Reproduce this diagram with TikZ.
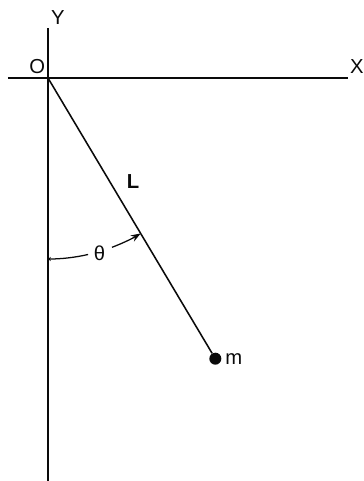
\documentclass[tikz,border=0pt]{standalone}
\usepackage{fontspec}
\setmainfont{Liberation Sans}
\usetikzlibrary{positioning, arrows.meta}
\definecolor{ink}{RGB}{10,10,10}
\newcommand{\rlen}{4.525}

\begin{document}
\begin{tikzpicture}[
  axis/.style={draw=ink, line width=1.5pt},
  rod/.style={draw=ink, line width=1.1pt},
  lab/.style={font=\Large, text=ink, inner sep=1pt}]
\useasboundingbox (-1.2,1.95) rectangle (7.9,-10.075);
% axes
\coordinate (o) at (0,0);
\coordinate (ytop) at (0,1.25);
\coordinate (ybot) at (0,-10.075);
\coordinate (xleft) at (-1.0,0);
\coordinate (xright) at (7.5,0);
\draw[axis] (ytop) -- (ybot);
\draw[axis] (xleft) -- (xright);
\node[lab] (ylab) at (0.25,1.5) {Y};
\node[lab] (xlab) at (7.72,0.28) {X};
\node[lab] (olab) at (-0.27,0.28) {O};
% pendulum
\node[circle, fill=ink, inner sep=0pt, minimum size=0.3cm] (mass) at (-59.2:8.17) {};
\draw[rod] (o) -- (mass);
\node[lab, right=0.05cm of mass] (mlab) {m};
\node[lab] (llab) at (2.125,-2.6) {\textbf{L}};
% angle
\draw[ink, line width=0.9pt, {Stealth[length=2pt,width=3pt]}-] (-90:\rlen) arc[start angle=-90, end angle=-77.2, radius=\rlen];
\draw[ink, line width=0.9pt, -{Stealth[length=7pt,width=5pt]}] (-69.3:\rlen) arc[start angle=-69.3, end angle=-59.2, radius=\rlen];
\node[lab] (th) at (-73.6:4.56) {θ};
\end{tikzpicture}
\end{document}
